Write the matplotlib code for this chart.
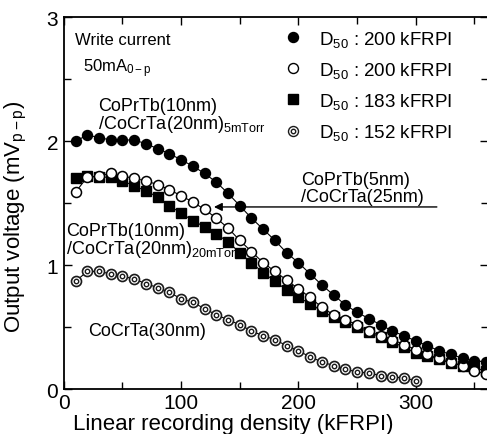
import numpy as np
import matplotlib
matplotlib.use("Agg")
import matplotlib.pyplot as plt
from matplotlib.lines import Line2D
from matplotlib.ticker import MultipleLocator

plt.rcParams["font.family"] = ["Liberation Sans", "DejaVu Sans"]
plt.rcParams["mathtext.fontset"] = "custom"
plt.rcParams["mathtext.rm"] = "Liberation Sans"
plt.rcParams["mathtext.it"] = "Liberation Sans:italic"

# linear recording density (kFRPI)
density = np.arange(10, 370, 10)
density_30nm = np.arange(10, 310, 10)

# output voltage (mV p-p)
v_5mtorr = [2.00, 2.05, 2.03, 2.01, 2.01, 2.01, 1.98, 1.94, 1.90, 1.85,
            1.80, 1.74, 1.67, 1.58, 1.48, 1.38, 1.29, 1.20, 1.10, 1.02,
            0.93, 0.84, 0.76, 0.68, 0.62, 0.57, 0.52, 0.47, 0.43, 0.39,
            0.35, 0.31, 0.28, 0.25, 0.23, 0.22]
v_5nm = [1.59, 1.71, 1.72, 1.74, 1.72, 1.70, 1.68, 1.65, 1.61, 1.56,
         1.51, 1.45, 1.38, 1.30, 1.20, 1.11, 1.02, 0.95, 0.88, 0.81,
         0.74, 0.66, 0.60, 0.56, 0.52, 0.47, 0.43, 0.40, 0.36, 0.32,
         0.28, 0.25, 0.22, 0.19, 0.15, 0.12]
v_20mtorr = [1.70, 1.72, 1.71, 1.71, 1.68, 1.64, 1.60, 1.55, 1.48, 1.42,
             1.36, 1.31, 1.25, 1.19, 1.10, 1.02, 0.94, 0.87, 0.80, 0.74,
             0.69, 0.63, 0.58, 0.54, 0.50, 0.46, 0.42, 0.38, 0.34, 0.29,
             0.27, 0.24, 0.21, 0.19, 0.17, 0.15]
v_30nm = [0.87, 0.95, 0.95, 0.93, 0.91, 0.89, 0.85, 0.82, 0.78, 0.73,
          0.70, 0.65, 0.60, 0.56, 0.52, 0.47, 0.43, 0.40, 0.35, 0.31,
          0.26, 0.22, 0.19, 0.16, 0.14, 0.13, 0.11, 0.10, 0.09, 0.07]

legend_labels = [r"D$_{50}$ : 200 kFRPI", r"D$_{50}$ : 200 kFRPI",
                 r"D$_{50}$ : 183 kFRPI", r"D$_{50}$ : 152 kFRPI"]

fig = plt.figure(figsize=(4.87, 4.35), dpi=100)
ax = fig.add_axes([0.131, 0.103, 0.872, 0.855])

ms = 7.2
line_kw = dict(color="black", lw=0.8)
ax.plot(density, v_20mtorr, marker="s", ms=ms, mfc="black", mec="black",
        zorder=3, **line_kw)
ax.plot(density, v_5nm, marker="o", ms=ms, mfc="white", mec="black",
        mew=1.1, zorder=4, **line_kw)
ax.plot(density, v_5mtorr, marker="o", ms=ms, mfc="black", mec="black",
        zorder=4, **line_kw)
ax.plot(density_30nm, v_30nm, marker="o", ms=ms, mfc="white", mec="#1a1a1a",
        mew=1.2, zorder=4, **line_kw)
ax.plot(density_30nm, v_30nm, ls="none", marker="o", ms=3.2, mfc="white",
        mec="#1a1a1a", mew=1.0, zorder=5)

ax.set_xlim(0, 362)
ax.set_ylim(0, 3)
ax.xaxis.set_major_locator(MultipleLocator(100))
ax.xaxis.set_minor_locator(MultipleLocator(50))
ax.yaxis.set_major_locator(MultipleLocator(1))
ax.yaxis.set_minor_locator(MultipleLocator(0.5))
ax.tick_params(which="both", direction="in", top=True, right=True,
               width=1.0, labelsize=15)
ax.tick_params(which="major", length=6)
ax.tick_params(which="minor", length=5)
ax.tick_params(axis="y", pad=4)
ax.tick_params(axis="x", pad=3)
for sp in ax.spines.values():
    sp.set_linewidth(1.3)

ax.set_xlabel("Linear recording density (kFRPI)", fontsize=16)
ax.set_ylabel(r"Output voltage (mV$_{\mathrm{p-p}}$)", fontsize=16)
ax.xaxis.set_label_coords(0.40, -0.063)
ax.yaxis.set_label_coords(-0.082, 0.465)

# legend
handles = [
    Line2D([], [], ls="none", marker="o", ms=ms, mfc="black", mec="black"),
    Line2D([], [], ls="none", marker="o", ms=ms, mfc="white", mec="black"),
    Line2D([], [], ls="none", marker="s", ms=ms, mfc="black", mec="black"),
    (Line2D([], [], ls="none", marker="o", ms=ms, mfc="white", mec="#1a1a1a"),
     Line2D([], [], ls="none", marker="o", ms=3.2, mfc="white", mec="#1a1a1a")),
]
ax.legend(handles, legend_labels, loc="upper left",
          bbox_to_anchor=(0.49, 0.995), frameon=False, fontsize=13.5,
          handlelength=1.2, handletextpad=0.8, labelspacing=0.6,
          borderpad=0)

# annotations
txt = dict(fontsize=13, zorder=1, va="center", ha="left")
ax.text(9.4, 2.82, "Write current", fontsize=12, va="center")
ax.text(16, 2.59, r"50mA$_{\mathrm{0-p}}$", fontsize=12, va="center")
ax.text(29, 2.29, "CoPrTb(10nm)", **txt)
ax.text(29, 2.14, r"/CoCrTa(20nm)$_{\mathrm{5mTorr}}$", **txt)
ax.text(202, 1.69, "CoPrTb(5nm)", **txt)
ax.text(202, 1.555, "/CoCrTa(25nm)", **txt)
ax.annotate("", xy=(128, 1.47), xytext=(318, 1.47),
            arrowprops=dict(arrowstyle="-|>", lw=1.0, color="black",
                            mutation_scale=12, shrinkA=0, shrinkB=0),
            zorder=2)
ax.text(2, 1.28, "CoPrTb(10nm)", **txt)
ax.text(2, 1.135, r"/CoCrTa(20nm)$_{\mathrm{20mTorr}}$", **txt)
ax.text(20.5, 0.47, "CoCrTa(30nm)", **txt)

fig.savefig("out.png", dpi=100)
